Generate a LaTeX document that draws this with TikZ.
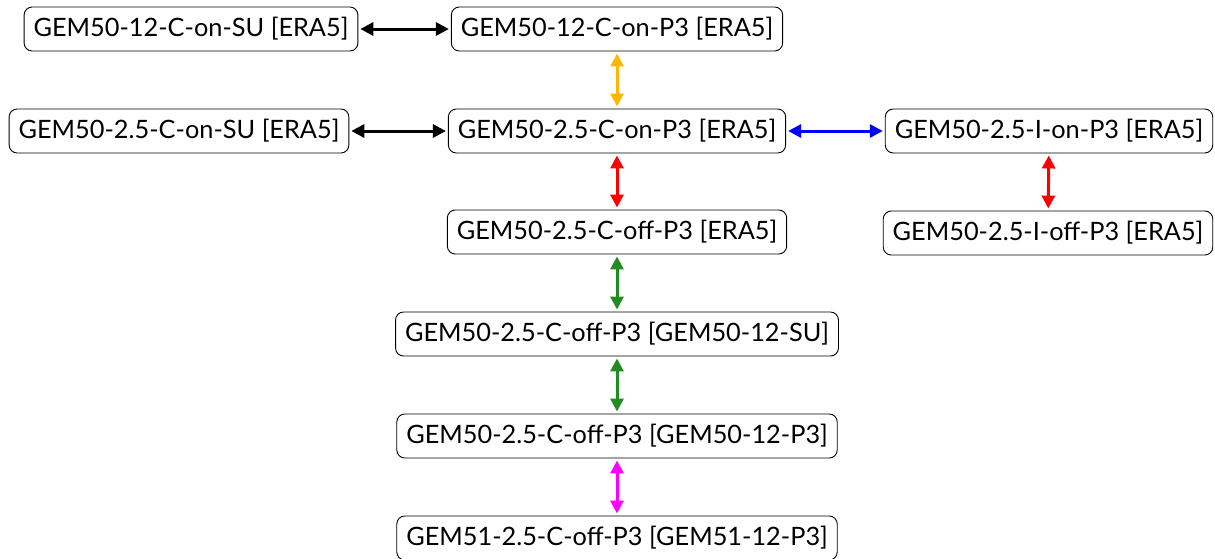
\documentclass[tikz,border=0pt]{standalone}
\usepackage{fontspec}
\setmainfont{Lato}
\usetikzlibrary{arrows.meta}
\definecolor{myorange}{RGB}{255,183,0}
\definecolor{mygreen}{RGB}{34,139,34}
\definecolor{mymagenta}{RGB}{255,0,255}
\begin{document}
\begin{tikzpicture}[x=1pt,y=-1pt,
  box/.style={draw, rounded corners=8pt, line width=0.9pt, minimum height=44pt, inner xsep=9.5pt,
    font=\fontsize{25.3}{29}\selectfont, anchor=center},
  link/.style={line width=3pt, {Triangle[length=13pt,width=13pt]}-{Triangle[length=13pt,width=13pt]}, shorten >=2pt, shorten <=2pt}]
\useasboundingbox (0,0) rectangle (1215,558);
\node[box] (a) at (191,29) {GEM50-12-C-on-SU [ERA5]};
\node[box] (b) at (617,29) {GEM50-12-C-on-P3 [ERA5]};
\node[box] (c) at (179,131) {GEM50-2.5-C-on-SU [ERA5]};
\node[box] (d) at (617,131) {GEM50-2.5-C-on-P3 [ERA5]};
\node[box] (e) at (1049,131) {GEM50-2.5-I-on-P3 [ERA5]};
\node[box] (f) at (617,232) {GEM50-2.5-C-off-P3 [ERA5]};
\node[box] (g) at (1048,233) {GEM50-2.5-I-off-P3 [ERA5]};
\node[box] (h) at (617,334) {GEM50-2.5-C-off-P3 [GEM50-12-SU]};
\node[box] (i) at (617,436) {GEM50-2.5-C-off-P3 [GEM50-12-P3]};
\node[box] (j) at (617,538) {GEM51-2.5-C-off-P3 [GEM51-12-P3]};
\draw[link, black] (a) -- (b);
\draw[link, myorange] (b) -- (d);
\draw[link, black] (c) -- (d);
\draw[link, blue] (d) -- (e);
\draw[link, red] (d) -- (f);
\draw[link, red] (e) -- (g);
\draw[link, mygreen] (f) -- (h);
\draw[link, mygreen] (h) -- (i);
\draw[link, mymagenta] (i) -- (j);
\end{tikzpicture}
\end{document}
